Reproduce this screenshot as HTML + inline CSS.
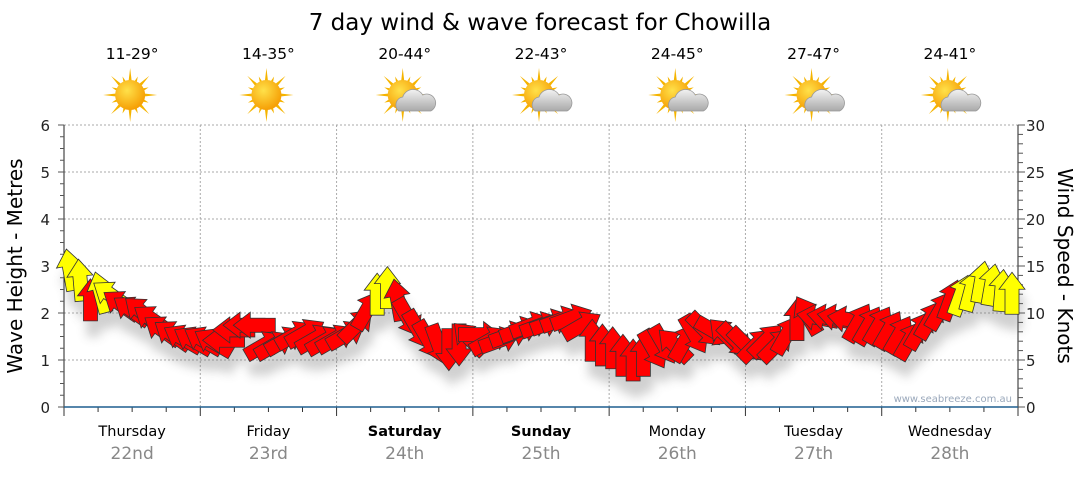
<!DOCTYPE html>
<html><head><meta charset="utf-8">
<style>
body{margin:0;background:#fff;font-family:"Liberation Sans","DejaVu Sans",sans-serif;}
svg text{font-family:"DejaVu Sans","Liberation Sans",sans-serif;}
</style></head>
<body>
<svg id="chart" width="1080" height="475" viewBox="0 0 1080 475" xmlns="http://www.w3.org/2000/svg">
<defs>
<filter id="sh" x="-50%" y="-50%" width="200%" height="200%"><feGaussianBlur stdDeviation="5"/></filter>
<radialGradient id="sunG" cx="0.4" cy="0.35" r="0.7"><stop offset="0" stop-color="#ffe14a"/><stop offset="1" stop-color="#f59a00"/></radialGradient>
<linearGradient id="cloudG" x1="0" y1="0" x2="0" y2="1"><stop offset="0" stop-color="#f2f2f2"/><stop offset="1" stop-color="#a9a9a9"/></linearGradient>
</defs>
<text x="540" y="30" font-size="23" text-anchor="middle" fill="#000">7 day wind &amp; wave forecast for Chowilla</text>
<g id="grid"></g>
<g id="axes"></g>
<g id="icons"></g>
<g id="shadows" filter="url(#sh)" opacity="0.3"></g>
<g id="arrows"></g>
<text transform="translate(22,266) rotate(-90)" font-size="20" text-anchor="middle">Wave Height - Metres</text>
<text transform="translate(1058,266) rotate(90)" font-size="20" text-anchor="middle">Wind Speed - Knots</text>
<text x="1012" y="402" font-size="10" text-anchor="end" fill="#9aa8bb">www.seabreeze.com.au</text>
</svg>
<script>
const days = ["Thursday","Friday","Saturday","Sunday","Monday","Tuesday","Wednesday"];
const dates = ["22nd","23rd","24th","25th","26th","27th","28th"];
const boldDays = [false,false,true,true,false,false,false];
const temps = ["11-29°","14-35°","20-44°","22-43°","24-45°","27-47°","24-41°"];
const cloudy = [false,false,true,true,true,true,true];
const leftTicks = [0,1,2,3,4,5,6];
const rightTicks = [0,5,10,15,20,25,30];
const windSpeed = [14.6,13.5,11.4,12.2,11.9,10.9,10.3,10.1,9.3,8.2,7.7,7.3,7.1,7.1,6.9,7.1,8.2,8.7,8.7,6.6,6.6,7.1,7.7,7.9,7.3,7.1,7.3,7.7,8.7,10.3,12.0,12.7,11.4,9.5,8.2,7.1,6.6,6.1,6.6,7.3,7.7,7.1,7.1,7.7,8.2,8.7,8.7,9.0,9.3,9.5,8.7,7.1,6.6,6.3,5.5,5.0,5.5,6.1,6.6,6.6,6.9,7.7,8.2,8.0,7.7,7.1,6.6,6.6,7.1,6.6,7.7,9.3,9.8,9.5,9.5,9.5,9.3,9.0,8.7,8.7,8.2,7.7,7.1,8.2,9.3,10.3,11.4,11.9,12.4,13.3,13.0,12.4,12.1];
const windDir = [-10,-5,0,-15,-55,-55,-55,-50,-55,-55,-55,-60,-60,-60,-60,-90,-90,-90,-90,60,60,60,60,60,60,60,60,60,45,30,0,0,-10,150,150,150,160,180,180,-45,90,60,70,70,70,70,70,70,70,70,60,0,0,0,0,0,0,150,150,-45,30,150,135,120,-45,135,135,45,45,45,30,0,-30,-80,-80,-80,-80,30,30,30,30,30,30,30,30,30,20,20,15,10,10,5,0];

const NS="http://www.w3.org/2000/svg";
const X0=64,X1=1018,Y0=407,Y1=125;
const xDay=d=>X0+(X1-X0)*d/7;
const yM=m=>Y0-(Y0-Y1)*m/6;
const yK=k=>Y0-(Y0-Y1)*k/30;
const xIdx=i=>X0+6+(1006-X0)*i/(windSpeed.length-1);
function mk(tag,attrs,parent,txt){const e=document.createElementNS(NS,tag);for(const k in attrs)e.setAttribute(k,attrs[k]);if(txt!==undefined)e.textContent=txt;parent.appendChild(e);return e;}
const grid=document.getElementById('grid'),axes=document.getElementById('axes'),icons=document.getElementById('icons'),arrows=document.getElementById('arrows'),shadows=document.getElementById('shadows');
for(const m of leftTicks){if(m===0)continue;const l=mk('line',{x1:X0,x2:X1,y1:yM(m),y2:yM(m),stroke:'#aaa','stroke-dasharray':'2,2'},grid);

}
for(let d=1;d<7;d++){const l=mk('line',{x1:xDay(d),x2:xDay(d),y1:Y1,y2:Y0,stroke:'#aaa','stroke-dasharray':'2,2'},grid);

}
mk('line',{x1:X0,x2:X0,y1:Y1,y2:Y0,stroke:'#222'},axes);
mk('line',{x1:X1,x2:X1,y1:Y1,y2:Y0,stroke:'#222'},axes);
for(let q=0;q<=24;q++){const y=yM(q/4);mk('line',{x1:q%4?X0-4:X0-6,x2:X0,y1:y,y2:y,stroke:'#555'},axes);}
for(let k=0;k<=30;k++){const y=yK(k);mk('line',{x1:X1,x2:k%5?X1+5:X1+7,y1:y,y2:y,stroke:'#555'},axes);}
for(const m of leftTicks){const t=mk('text',{x:50,y:yM(m)+6,'font-size':15,'text-anchor':'end',fill:'#222'},axes,String(m));

}
for(const k of rightTicks){const t=mk('text',{x:1026,y:yK(k)+6,'font-size':15,fill:'#222'},axes,String(k));

}
for(let s=0;s<=28;s++){const x=X0+(X1-X0)*s/28;mk('line',{x1:x,x2:x,y1:Y0,y2:s%4?Y0+5:Y0+9,stroke:'#333'},axes);}
mk('line',{x1:X0,x2:X1,y1:Y0,y2:Y0,stroke:'#1f5f8f','stroke-width':1.5},axes);
days.forEach((d,i)=>{const cx=(xDay(i)+xDay(i+1))/2;
const t=mk('text',{x:cx,y:436,'font-size':14.5,'text-anchor':'middle','font-weight':boldDays[i]?'bold':'normal'},axes,d);


const t2=mk('text',{x:cx,y:459,'font-size':17,'text-anchor':'middle',fill:'#888'},axes,dates[i]);


const t3=mk('text',{x:cx,y:59,'font-size':15.5,'text-anchor':'middle'},icons,temps[i]);


const g=mk('g',{transform:`translate(${cx-2},95)`},icons);


for(let r=0;r<16;r++){const a=r*Math.PI/8,L=r%2?20:27;mk('polygon',{points:`${Math.cos(a-0.15)*12},${Math.sin(a-0.15)*12} ${Math.cos(a)*L},${Math.sin(a)*L} ${Math.cos(a+0.15)*12},${Math.sin(a+0.15)*12}`,fill:'#f5b400'},g);}
mk('circle',{r:15,fill:'url(#sunG)'},g);
if(cloudy[i]){mk('path',{d:'M-4,16 a8,8 0 0 1 4,-14 a11,11 0 0 1 20,-2 a8,8 0 0 1 8,16 z',fill:'url(#cloudG)',stroke:'#999','stroke-width':0.8},g);}
});
const arrowPts="0,-21 13,-4 7,-4 7,21 -7,21 -7,-4 -13,-4";
windSpeed.forEach((k,i)=>{const x=xIdx(i),y=yK(k),a=windDir[i];
const s=mk('polygon',{points:arrowPts,transform:`translate(${x+3},${y+16}) rotate(${a})`,fill:'#666'},shadows);


const p=mk('polygon',{points:arrowPts,transform:`translate(${x},${y}) rotate(${a})`,fill:k>=11.8?'#ffff00':'#ff0000',stroke:'#333','stroke-width':0.8},arrows);

});
</script>
</body></html>
